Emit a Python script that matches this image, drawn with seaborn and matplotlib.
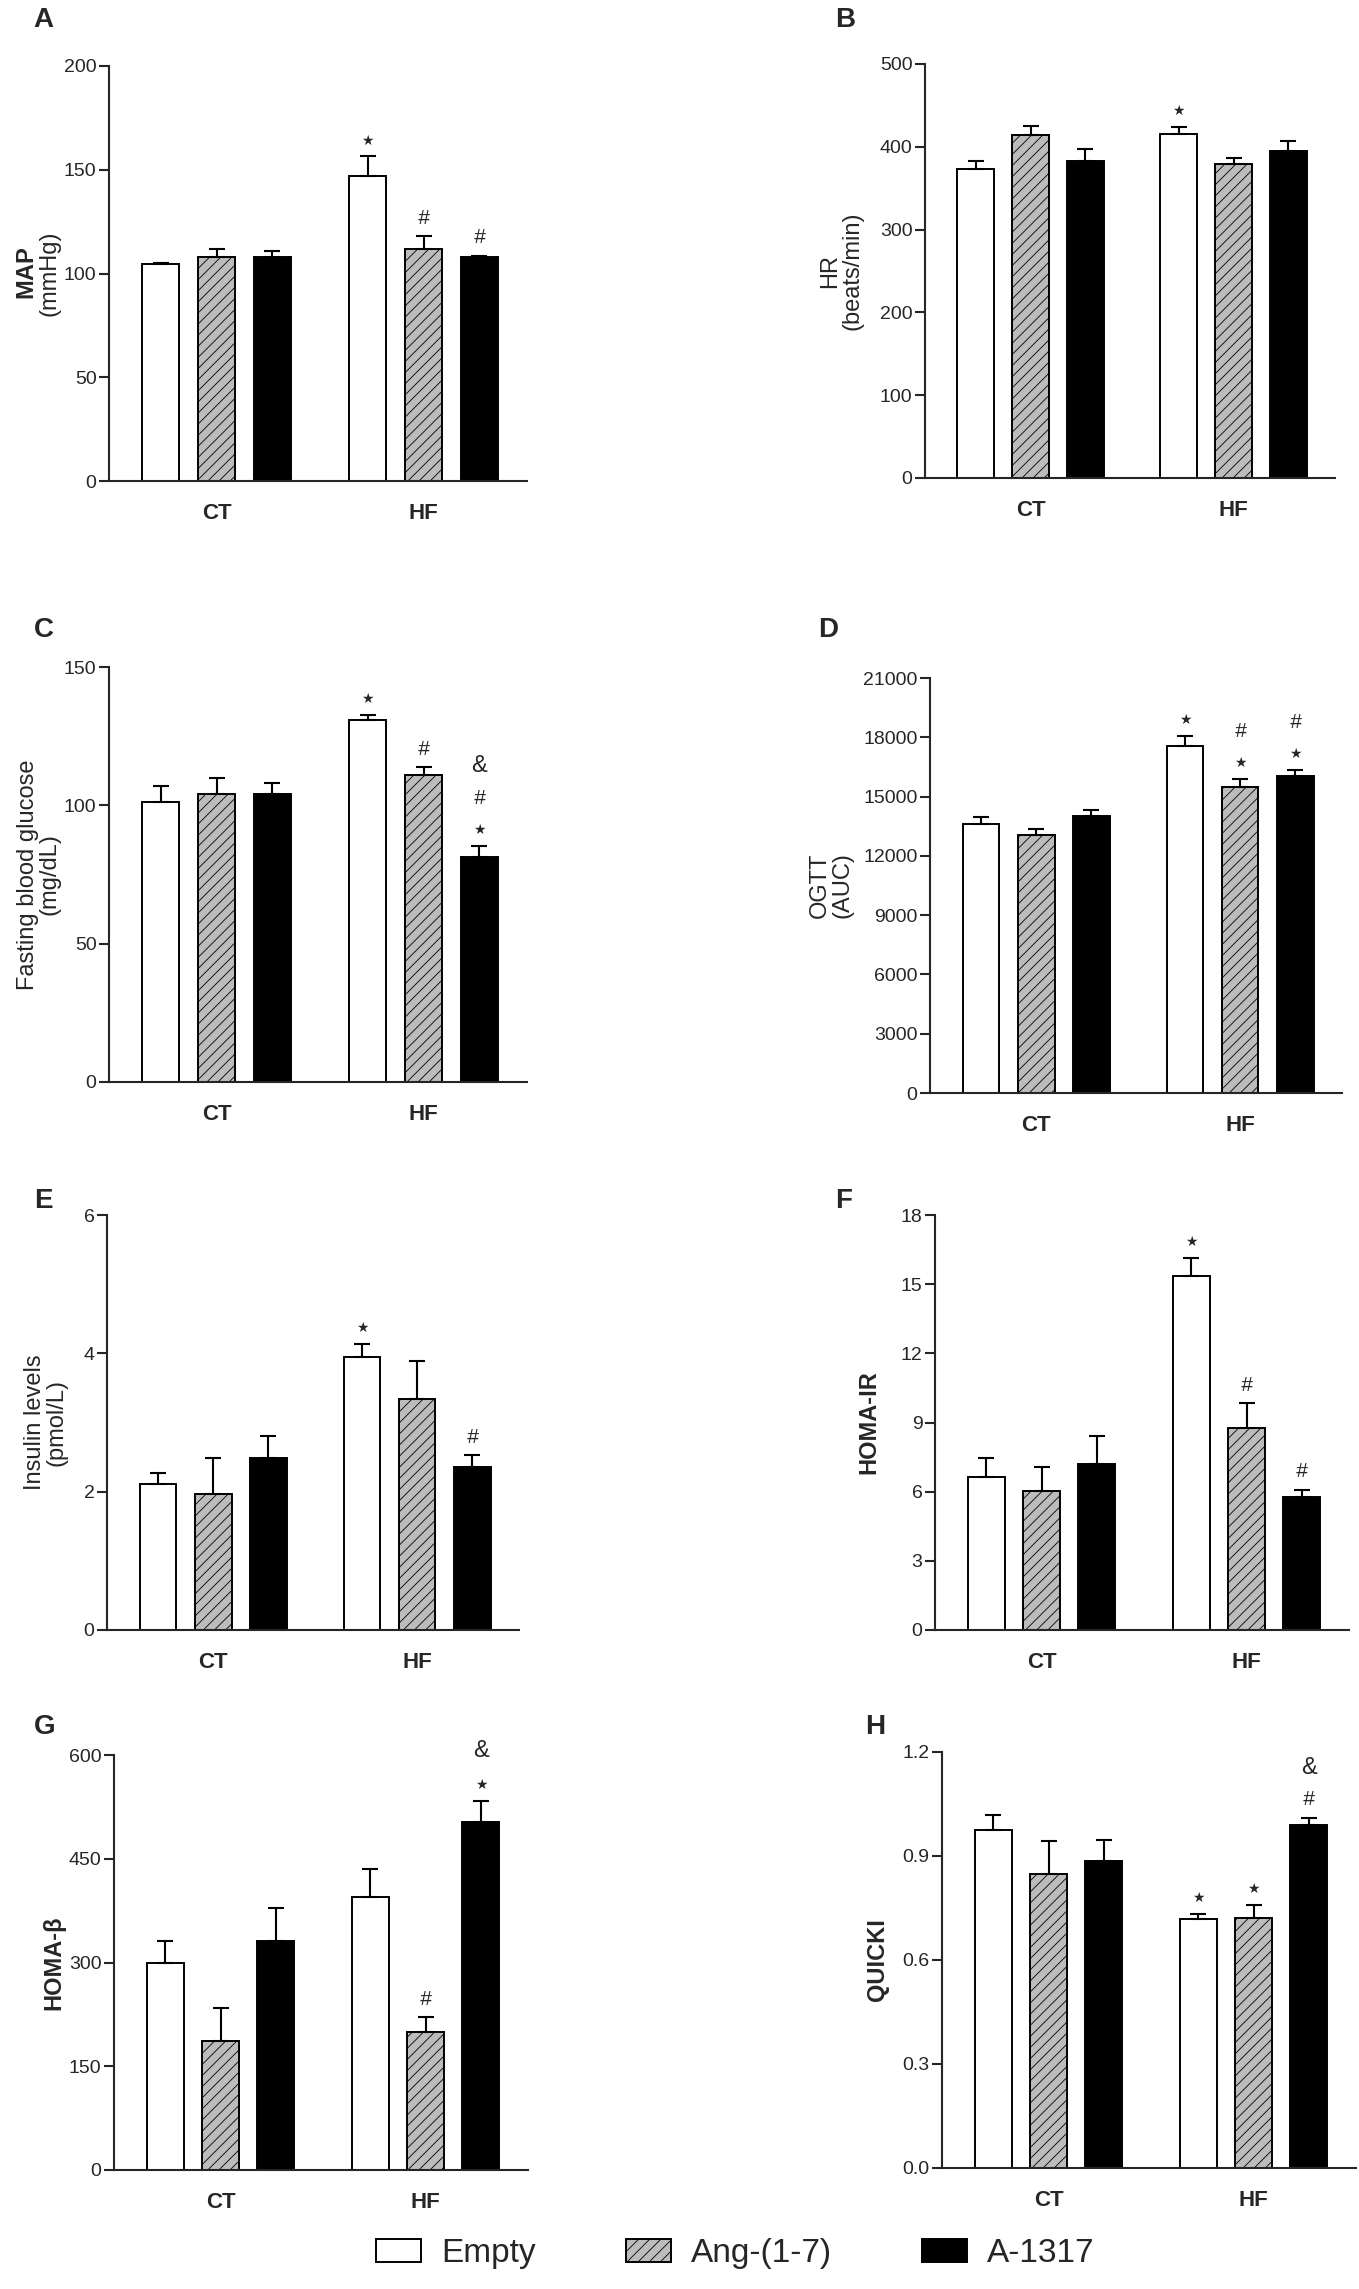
import numpy as np
import pandas as pd
import matplotlib as mpl
mpl.use("Agg")
import matplotlib.pyplot as plt
import matplotlib.ticker as mticker
from matplotlib.patches import Patch
import seaborn as sns

# 그룹 / 처리군
groups = ["CT", "HF"]
treatments = ["Empty", "Ang-(1-7)", "A-1317"]
colors = {"Empty": "white", "Ang-(1-7)": "#bcbcbc", "A-1317": "black"}

# 값 순서: CT(Empty, Ang, A-1317), HF(Empty, Ang, A-1317)
map_mean = [104.5, 108.0, 108.0, 146.8, 112.0, 108.0]
map_sem = [0.7, 4.0, 2.8, 9.6, 6.0, 0.5]
map_marks = ["", "", "", "*", "#", "#"]

hr_mean = [372.6, 414.5, 383.4, 415.8, 379.0, 395.0]
hr_sem = [10.0, 11.2, 14.3, 8.6, 7.9, 12.0]
hr_marks = ["", "", "", "*", "", ""]

glu_mean = [101.1, 104.1, 104.1, 130.7, 110.8, 81.3]
glu_sem = [5.9, 5.7, 3.8, 1.8, 3.0, 4.0]
glu_marks = ["", "", "", "*", "#", "*#&"]

ogtt_mean = [13610, 13070, 14030, 17570, 15460, 16060]
ogtt_sem = [360, 270, 270, 490, 420, 270]
ogtt_marks = ["", "", "", "*", "*#", "*#"]

ins_mean = [2.11, 1.96, 2.49, 3.94, 3.34, 2.36]
ins_sem = [0.16, 0.52, 0.32, 0.19, 0.55, 0.17]
ins_marks = ["", "", "", "*", "", "#"]

homa_ir_mean = [6.65, 6.03, 7.20, 15.36, 8.75, 5.75]
homa_ir_sem = [0.83, 1.04, 1.21, 0.77, 1.09, 0.33]
homa_ir_marks = ["", "", "", "*", "#", "#"]

homa_b_mean = [299.5, 186.5, 330.6, 395.3, 199.5, 502.6]
homa_b_sem = [31.1, 48.2, 47.6, 40.4, 21.2, 31.6]
homa_b_marks = ["", "", "", "", "#", "*&"]

quicki_mean = [0.974, 0.848, 0.887, 0.719, 0.720, 0.989]
quicki_sem = [0.044, 0.095, 0.058, 0.015, 0.039, 0.021]
quicki_marks = ["", "", "", "*", "*", "#&"]

sns.set_style("ticks")
plt.rcParams["font.family"] = ["Liberation Sans", "DejaVu Sans"]
plt.rcParams["mathtext.fontset"] = "custom"
plt.rcParams["mathtext.bf"] = "Liberation Sans:bold"
plt.rcParams["mathtext.rm"] = "Liberation Sans"
plt.rcParams["hatch.linewidth"] = 0.6

W, H = 1359, 2289
fig = plt.figure(figsize=(W / 100, H / 100), dpi=100)


def add_axes(left, right, top, bottom):
    return fig.add_axes([left / W, 1 - bottom / H, (right - left) / W, (bottom - top) / H])


# 막대 그래프 한 칸 그리기
def draw_panel(ax, means, sems, marks, ytop, step, ylabel, label_x, fmt="%d", bold_label=False):
    df = pd.DataFrame({
        "group": np.repeat(groups, len(treatments)),
        "treatment": treatments * len(groups),
        "value": means,
    })
    sns.barplot(data=df, x="group", y="value", hue="treatment", order=groups,
                hue_order=treatments, palette=colors, width=0.81, gap=0.33,
                edgecolor="black", linewidth=1.4, errorbar=None, legend=False, ax=ax)
    bar_conts = list(ax.containers)
    for bar in bar_conts[1]:
        bar.set_hatch("///")

    for i, cont in enumerate(bar_conts):
        for j, bar in enumerate(cont):
            idx = j * len(treatments) + i
            x = bar.get_x() + bar.get_width() / 2
            ax.errorbar(x, means[idx], yerr=[[0], [sems[idx]]], fmt="none",
                        ecolor="black", elinewidth=1.5, capsize=6, capthick=1.5, zorder=3)
            top = means[idx] + sems[idx]
            for k, ch in enumerate(marks[idx]):
                off = 16 + 30 * k
                if ch == "*":
                    ax.annotate("★", (x, top), xytext=(0, off), textcoords="offset pixels",
                                ha="center", va="center", fontsize=10, family="DejaVu Sans")
                elif ch == "#":
                    ax.annotate("#", (x, top), xytext=(0, off + 2), textcoords="offset pixels",
                                ha="center", va="center", fontsize=15, style="italic")
                else:
                    ax.annotate("&", (x, top), xytext=(0, off + 4), textcoords="offset pixels",
                                ha="center", va="center", fontsize=17)

    ax.set_xlim(-0.52, 1.50)
    ax.set_ylim(0, ytop)
    ax.yaxis.set_major_locator(mticker.MultipleLocator(step))
    ax.yaxis.set_major_formatter(mticker.FormatStrFormatter(fmt))
    ax.set_xlabel("")
    ax.set_ylabel(ylabel, fontsize=17, fontweight="bold" if bold_label else "normal",
                  linespacing=1.0)
    ax.yaxis.set_label_coords(label_x, 0.5)
    ax.tick_params(axis="y", length=7, width=1.5, labelsize=14, pad=2)
    ax.tick_params(axis="x", length=0, labelsize=16, pad=16)
    for t in ax.get_xticklabels():
        t.set_fontweight("bold")
    sns.despine(ax=ax)
    for s in ["left", "bottom"]:
        ax.spines[s].set_linewidth(1.5)


axA = add_axes(109, 527, 66, 481)
axB = add_axes(925, 1335, 64, 478)
axC = add_axes(109, 527, 667, 1082)
axD = add_axes(930, 1342, 678, 1093)
axE = add_axes(107, 519, 1215, 1630)
axF = add_axes(935, 1349, 1215, 1630)
axG = add_axes(114, 528, 1755, 2170)
axH = add_axes(942, 1356, 1752, 2168)

draw_panel(axA, map_mean, map_sem, map_marks, 200, 50, r"$\bf{MAP}$" + "\n(mmHg)", -0.115)
draw_panel(axB, hr_mean, hr_sem, hr_marks, 500, 100, "HR\n(beats/min)", -0.15)
draw_panel(axC, glu_mean, glu_sem, glu_marks, 150, 50, "Fasting blood glucose\n(mg/dL)", -0.115)
draw_panel(axD, ogtt_mean, ogtt_sem, ogtt_marks, 21000, 3000, "OGTT\n(AUC)", -0.186)
draw_panel(axE, ins_mean, ins_sem, ins_marks, 6, 2, "Insulin levels\n(pmol/L)", -0.095)
draw_panel(axF, homa_ir_mean, homa_ir_sem, homa_ir_marks, 18, 3, "HOMA-IR", -0.133, bold_label=True)
draw_panel(axG, homa_b_mean, homa_b_sem, homa_b_marks, 600, 150, "HOMA-β", -0.118, bold_label=True)
draw_panel(axH, quicki_mean, quicki_sem, quicki_marks, 1.2, 0.3, "QUICKI", -0.128, fmt="%.1f", bold_label=True)

# 패널 문자
for letter, (x, y) in zip("ABCDEFGH", [(33, 7), (835, 7), (34, 617), (818, 617),
                                      (34, 1188), (835, 1188), (34, 1714), (865, 1714)]):
    fig.text(x / W, 1 - y / H, letter, ha="left", va="top", fontsize=20, fontweight="bold")

handles = [Patch(facecolor=colors[t], edgecolor="black", linewidth=1.4,
                 hatch="///" if t == "Ang-(1-7)" else None) for t in treatments]
fig.legend(handles, treatments, loc="center", bbox_to_anchor=(0.541, 0.0153), ncol=3,
           frameon=False, fontsize=24, handlelength=1.35, handleheight=0.7,
           handletextpad=0.6, columnspacing=2.7)

fig.savefig("out.png", dpi=100)
